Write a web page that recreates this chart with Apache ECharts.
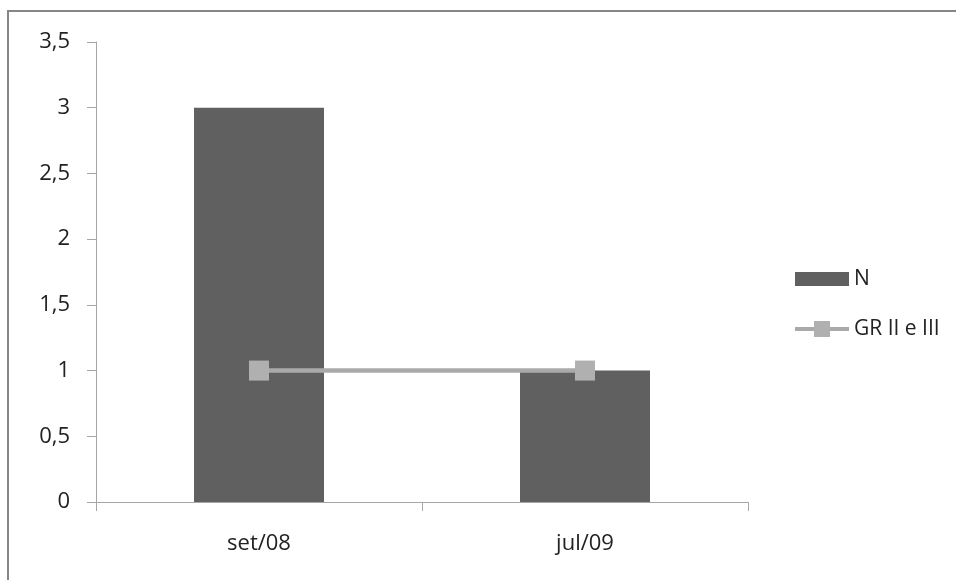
<!DOCTYPE html>
<html>
<head>
<meta charset="utf-8">
<script src="https://cdn.jsdelivr.net/npm/echarts@6/dist/echarts.min.js"></script>
<style>html,body{margin:0;padding:0;background:#fff}#c{width:956px;height:580px}</style>
</head>
<body>
<div id="c"></div>
<script>
const categories = ['set/08', 'jul/09'];
const seriesN = [3, 1];
const seriesGR = [1, 1];
const yTickLabels = ['0', '0,5', '1', '1,5', '2', '2,5', '3', '3,5'];

const chart = echarts.init(document.getElementById('c'), null, {renderer: 'canvas'});
const font = 'Open Sans';
chart.setOption({
  animation: false,
  backgroundColor: '#fff',
  textStyle: {fontFamily: font},
  grid: {left: 96, right: 208, top: 42, bottom: 78, containLabel: false},
  legend: {
    orient: 'vertical',
    left: 788,
    top: 262,
    itemGap: 26,
    itemWidth: 54,
    itemHeight: 20,
    textStyle: {fontFamily: font, fontSize: 21, lineHeight: 24, color: '#222'},
    data: [
      {name: 'N', icon: 'path://M0,0L54,0L54,0.01L0,0.01ZM0,3L54,3L54,17L0,17ZM0,19.99L54,19.99L54,20L0,20Z'},
      {name: 'GR II e III', lineStyle: {width: 4, color: '#aaaaaa'}}
    ]
  },
  xAxis: {
    type: 'category',
    data: categories,
    boundaryGap: true,
    axisLine: {lineStyle: {color: '#a6a6a6', width: 1}},
    axisTick: {show: true, length: 9, lineStyle: {color: '#a6a6a6'}},
    axisLabel: {fontFamily: font, fontSize: 22, color: '#222', margin: 31}
  },
  yAxis: {
    type: 'value',
    min: 0,
    max: 3.5,
    interval: 0.5,
    splitLine: {show: false},
    axisLine: {show: true, lineStyle: {color: '#a6a6a6', width: 1}},
    axisTick: {show: true, length: 9, lineStyle: {color: '#a6a6a6'}},
    axisLabel: {
      fontFamily: font, fontSize: 22, color: '#222', margin: 26,
      formatter: function (v) { return yTickLabels[Math.round(v * 2)]; }
    }
  },
  series: [
    {
      name: 'N',
      type: 'bar',
      data: seriesN,
      barWidth: 130,
      itemStyle: {color: '#606060'}
    },
    {
      name: 'GR II e III',
      type: 'line',
      data: seriesGR,
      symbol: 'rect',
      symbolSize: 20,
      lineStyle: {color: '#aaaaaa', width: 4.5},
      itemStyle: {color: '#b0b0b0', borderWidth: 0},
      z: 5
    }
  ],
  graphic: [
    {type: 'line', shape: {x1: 8, y1: 11, x2: 956, y2: 11}, style: {stroke: '#868686', lineWidth: 2}},
    {type: 'line', shape: {x1: 8, y1: 10, x2: 8, y2: 580}, style: {stroke: '#868686', lineWidth: 2}}
  ]
});
</script>
</body>
</html>
